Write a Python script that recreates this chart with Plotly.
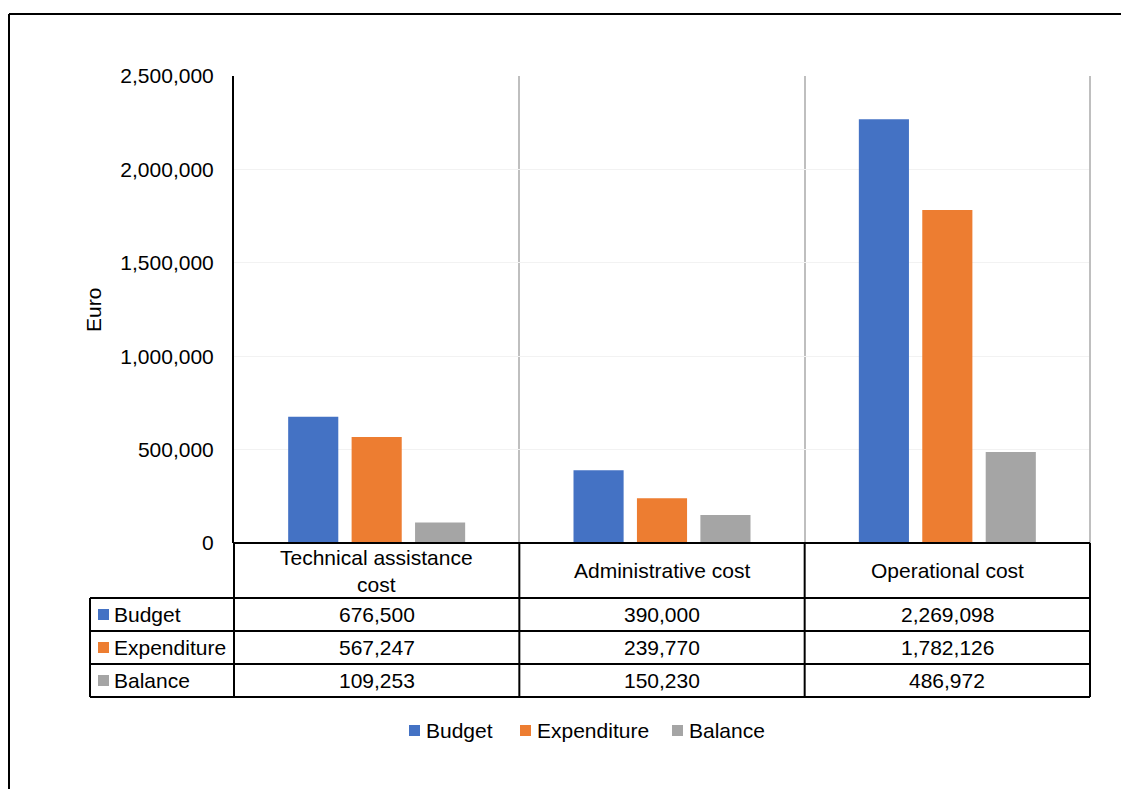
import plotly.graph_objects as go

# Cost categories and series (Euro)
categories = ["Technical assistance cost", "Administrative cost", "Operational cost"]
header_labels = ["Technical assistance<br>cost", "Administrative cost", "Operational cost"]
series_names = ["Budget", "Expenditure", "Balance"]
budget = [676500, 390000, 2269098]
expenditure = [567247, 239770, 1782126]
balance = [109253, 150230, 486972]
y_ticks = [0, 500000, 1000000, 1500000, 2000000, 2500000]

colors = ["#4472C4", "#ED7D31", "#A5A5A5"]
series_values = [budget, expenditure, balance]

W, H = 1121, 789
L, R, T, B = 234, 1090, 76, 543  # plot area in pixels
FONT = "Liberation Sans, Arial, sans-serif"
FS = 21


def px(x):
    return (x - L) / (R - L)


def py(y):
    return (B - y) / (B - T)


fig = go.Figure()
for name, vals, col in zip(series_names, series_values, colors):
    fig.add_trace(go.Bar(x=categories, y=vals, name=name, marker=dict(color=col, line=dict(width=0))))

shapes = []
annotations = []


def hline(x0, x1, y, color="black", w=2):
    shapes.append(dict(type="line", xref="paper", yref="paper", x0=px(x0), x1=px(x1),
                       y0=py(y), y1=py(y), line=dict(color=color, width=w)))


def vline(x, y0, y1, color="black", w=2):
    shapes.append(dict(type="line", xref="paper", yref="paper", x0=px(x), x1=px(x),
                       y0=py(y0), y1=py(y1), line=dict(color=color, width=w)))


def text(x, y, s, anchor="center"):
    annotations.append(dict(xref="paper", yref="paper", x=px(x), y=py(y), text=s, showarrow=False,
                            xanchor=anchor, yanchor="middle",
                            font=dict(family=FONT, size=FS, color="black")))


def square(x0, y0, size, color):
    shapes.append(dict(type="rect", xref="paper", yref="paper", x0=px(x0), x1=px(x0 + size),
                       y0=py(y0 + size), y1=py(y0), fillcolor=color, line=dict(width=0)))


# Outer frame (top and left edges)
hline(9, W + 20, 14)
vline(9, 14, H + 20)

# Right-hand category boundary of the plot area
vline(R, T, B, color="#BFBFBF")

# Data table below the plot
header_bottom = 598
row_edges = [598, 631, 664, 697]
col_edges = [L + (R - L) * i / 3 for i in range(4)]
table_left = 90

hline(L, R, B)
hline(table_left, R, header_bottom)
for y in row_edges[1:]:
    hline(table_left, R, y)
for x in col_edges:
    vline(x, B, row_edges[-1])
vline(table_left, header_bottom, row_edges[-1])

for i, lab in enumerate(header_labels):
    cx = (col_edges[i] + col_edges[i + 1]) / 2
    text(cx, (B + header_bottom) / 2, lab)

for r, (name, vals, col) in enumerate(zip(series_names, series_values, colors)):
    cy = (row_edges[r] + row_edges[r + 1]) / 2
    square(98, cy - 5.5, 11, col)
    text(112, cy, name, anchor="left")
    for i, v in enumerate(vals):
        cx = (col_edges[i] + col_edges[i + 1]) / 2
        text(cx, cy, f"{v:,}")

# Legend below the table
legend_x = [409, 520, 672]
for name, col, lx in zip(series_names, colors, legend_x):
    square(lx, 725, 11, col)
    text(lx + 15, 730, name, anchor="left")

# Y axis title
annotations.append(dict(xref="paper", yref="paper", x=px(93), y=py(310), text="Euro", showarrow=False,
                        textangle=-90, xanchor="center", yanchor="middle",
                        font=dict(family=FONT, size=FS, color="black")))

fig.update_layout(
    width=W, height=H,
    margin=dict(l=L, r=W - R, t=T, b=H - B, pad=0),
    paper_bgcolor="white", plot_bgcolor="white",
    barmode="group", bargap=0.333, bargroupgap=0.21,
    showlegend=False,
    font=dict(family=FONT, size=FS, color="black"),
    xaxis=dict(type="category", tickson="boundaries", showgrid=True, gridcolor="#BFBFBF", gridwidth=2,
               showticklabels=False, ticks="", showline=False, zeroline=False,
               range=[-0.5, 2.5]),
    yaxis=dict(range=[0, 2500000], tickvals=y_ticks, tickformat=",", showgrid=True,
               gridcolor="#F2F2F2", gridwidth=1, zeroline=False, showline=True,
               linecolor="black", linewidth=2, ticks="", ticklabelstandoff=14,
               tickfont=dict(family=FONT, size=FS, color="black")),
    shapes=shapes,
    annotations=annotations,
)

fig.write_html("out.html")
